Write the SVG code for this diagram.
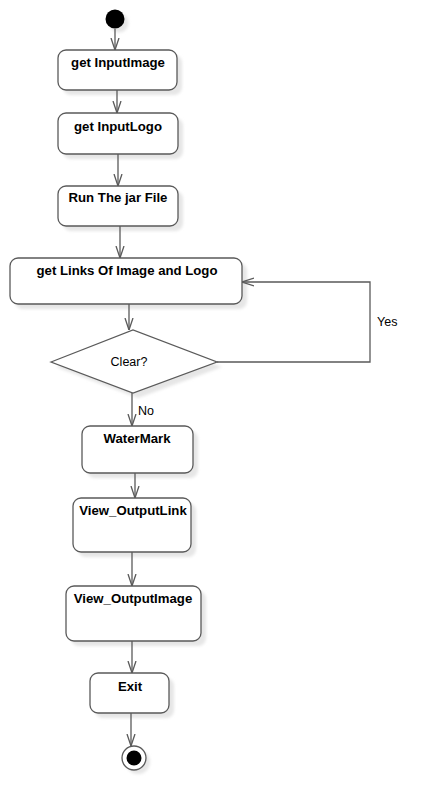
<svg xmlns="http://www.w3.org/2000/svg" width="439" height="811" viewBox="0 0 439 811">
<style>
.box{fill:#fff;stroke:#5a5a5a;stroke-width:1.3}
.sh{fill:#e6e6e6;filter:url(#blur)}
.lbl{font-family:"Liberation Sans",Arial,sans-serif;font-size:13.2px;font-weight:bold;fill:#000;text-anchor:middle}
.txt{font-family:"Liberation Sans",Arial,sans-serif;font-size:12.5px;fill:#000}
.edge{fill:none;stroke:#5a5a5a;stroke-width:1.3;marker-end:url(#arr)}
</style>
<defs>
<filter id="blur" x="-20%" y="-20%" width="140%" height="140%"><feGaussianBlur stdDeviation="1.5"/></filter>
<marker id="arr" viewBox="0 0 12 10" refX="12" refY="5" markerWidth="12" markerHeight="10" markerUnits="userSpaceOnUse" orient="auto">
<path d="M0,1 L12,5 L0,9" fill="none" stroke="#5a5a5a" stroke-width="1.3"/>
</marker>
</defs>
<rect width="439" height="811" fill="#fff"/>
<g id="start">
<circle cx="119" cy="23" r="9.5" fill="#e6e6e6" filter="url(#blur)"/>
<circle cx="115" cy="19" r="9.5" fill="#000"/>
</g>
<g id="n1">
<rect class="sh" x="63" y="55" width="119" height="40" rx="8"/>
<rect class="box" x="58" y="50" width="119" height="40" rx="8"/>
<text class="lbl" x="118" y="67">get InputImage</text>
</g>
<g id="n2">
<rect class="sh" x="63" y="118" width="120" height="41" rx="8"/>
<rect class="box" x="58" y="113" width="120" height="41" rx="8"/>
<text class="lbl" x="118" y="131">get InputLogo</text>
</g>
<g id="n3">
<rect class="sh" x="63" y="191" width="120" height="40" rx="8"/>
<rect class="box" x="58" y="186" width="120" height="40" rx="8"/>
<text class="lbl" x="118" y="202">Run The jar File</text>
</g>
<g id="n4">
<rect class="sh" x="15" y="263" width="232" height="46" rx="8"/>
<rect class="box" x="10" y="258" width="232" height="46" rx="8"/>
<text class="lbl" x="127" y="275">get Links Of Image and Logo</text>
</g>
<g id="d1">
<polygon points="56,367 138,335 222,367 138,398" fill="#e6e6e6" filter="url(#blur)"/>
<polygon points="51,362 133,330 217,362 133,393" fill="#fff" stroke="#5a5a5a" stroke-width="1.3"/>
<text class="txt" x="129" y="366" text-anchor="middle">Clear?</text>
</g>
<g id="n5">
<rect class="sh" x="87" y="431" width="111" height="47" rx="8"/>
<rect class="box" x="82" y="426" width="111" height="47" rx="8"/>
<text class="lbl" x="137" y="443">WaterMark</text>
</g>
<g id="n6">
<rect class="sh" x="78" y="503" width="118" height="54" rx="8"/>
<rect class="box" x="73" y="498" width="118" height="54" rx="8"/>
<text class="lbl" x="133" y="515">View_OutputLink</text>
</g>
<g id="n7">
<rect class="sh" x="71" y="591" width="135" height="55" rx="8"/>
<rect class="box" x="66" y="586" width="135" height="55" rx="8"/>
<text class="lbl" x="133" y="603">View_OutputImage</text>
</g>
<g id="n8">
<rect class="sh" x="95" y="678" width="79" height="40" rx="8"/>
<rect class="box" x="90" y="673" width="79" height="40" rx="8"/>
<text class="lbl" x="130" y="691">Exit</text>
</g>
<g id="end">
<circle cx="138" cy="762" r="12" fill="#e6e6e6" filter="url(#blur)"/>
<circle cx="134" cy="758" r="12" fill="#fff" stroke="#5a5a5a" stroke-width="1.3"/>
<circle cx="134" cy="758" r="7.5" fill="#000"/>
</g>
<g id="edges">
<path class="edge" d="M115,29 V50"/>
<path class="edge" d="M117,90 V113"/>
<path class="edge" d="M118,154 V186"/>
<path class="edge" d="M120,226 V258"/>
<path class="edge" d="M129,304 V330"/>
<path class="edge" d="M217,362 H370 V282 H242"/>
<text class="txt" x="377" y="326">Yes</text>
<path class="edge" d="M132,393 V426"/>
<text class="txt" x="138" y="415">No</text>
<path class="edge" d="M135,473 V498"/>
<path class="edge" d="M132,552 V586"/>
<path class="edge" d="M132,641 V673"/>
<path class="edge" d="M131,713 V746"/>
</g>
</svg>
